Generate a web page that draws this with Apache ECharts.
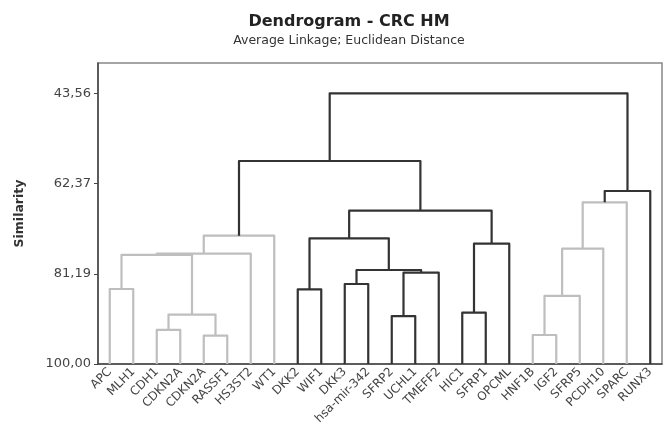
<!DOCTYPE html>
<html>
<head>
<meta charset="utf-8">
<script src="https://cdn.jsdelivr.net/npm/echarts@6/dist/echarts.min.js"></script>
<style>html,body{margin:0;padding:0;background:#fff}#c{width:670px;height:429px}</style>
</head>
<body>
<div id="c"></div>
<script>
// Leaves (observations) in dendrogram order
const leaves = ['APC','MLH1','CDH1','CDKN2A','CDKN2A','RASSF1','HS3ST2','WT1','DKK2','WIF1','DKK3','hsa-mir-342','SFRP2','UCHL1','TMEFF2','HIC1','SFRP1','OPCML','HNF1B','IGF2','SFRP5','PCDH10','SPARC','RUNX3'];
// Y-axis tick labels (similarity)
const yTicks = [43.56, 62.37, 81.19, 100.00];
// Merge steps: node ids 0..23 are leaves, each merge creates node 24+k
const mergeA   = [2, 4, 24, 0, 27, 28, 29, 8, 10, 12, 33, 32, 31, 15, 37, 36, 30, 18, 41, 42, 43, 44, 40];
const mergeB   = [3, 5, 25, 1, 26, 6, 7, 9, 11, 13, 14, 34, 35, 16, 17, 38, 39, 19, 20, 21, 22, 23, 45];
const mergeSim = [92.9, 94.1, 89.7, 84.36, 77.25, 77.0, 73.25, 84.42, 83.32, 90.0, 80.96, 80.4, 73.79, 89.3, 74.9, 68.03, 57.67, 93.95, 85.8, 75.96, 66.29, 63.93, 43.56];
// 0 = grey cluster link, 1 = black link
const mergeTone = [0, 0, 0, 0, 0, 0, 0, 1, 1, 1, 1, 1, 1, 1, 1, 1, 1, 0, 0, 0, 0, 1, 1];

const tones = ['#bebebe', '#333333'];
const nodeX = leaves.map((_, i) => i);
const nodeY = leaves.map(() => 100);
const links = [];
for (let k = 0; k < mergeA.length; k++) {
  const a = mergeA[k], b = mergeB[k];
  links.push([nodeX[a], nodeX[b], nodeY[a], nodeY[b], mergeSim[k], mergeTone[k]]);
  nodeX.push((nodeX[a] + nodeX[b]) / 2);
  nodeY.push(mergeSim[k]);
}

const chart = echarts.init(document.getElementById('c'));
const font = 'DejaVu Sans';
chart.setOption({
  animation: false,
  backgroundColor: '#fff',
  title: {
    text: 'Dendrogram - CRC HM',
    subtext: 'Average Linkage; Euclidean Distance',
    left: 344, top: 9, textAlign: 'center', itemGap: 4,
    textStyle: {fontFamily: font, fontSize: 16, fontWeight: 'bold', color: '#222'},
    subtextStyle: {fontFamily: font, fontSize: 12.5, color: '#333'}
  },
  grid: {left: 98, right: 8, top: 63, bottom: 65, show: true, borderColor: '#888', borderWidth: 1.5},
  xAxis: [{
    type: 'category', data: leaves, boundaryGap: true,
    axisLine: {onZero: false, lineStyle: {color: '#444', width: 1.5}},
    axisTick: {alignWithLabel: true, length: 4, lineStyle: {color: '#444'}},
    axisLabel: {interval: 0, rotate: 45, margin: 6, fontFamily: font, fontSize: 12, color: '#444'}
  }, {
    type: 'value', min: -0.5, max: leaves.length - 0.5, show: false
  }],
  yAxis: {
    type: 'value', inverse: true, min: 37.24, max: 100,
    name: 'Similarity', nameLocation: 'middle', nameGap: 72,
    nameTextStyle: {fontFamily: font, fontSize: 12.5, fontWeight: 'bold', color: '#333'},
    splitLine: {show: false},
    axisLine: {show: true, onZero: false, lineStyle: {color: '#444', width: 1.5}},
    axisTick: {show: true, length: 4, customValues: yTicks, lineStyle: {color: '#444'}},
    axisLabel: {customValues: yTicks, margin: 7, fontFamily: font, fontSize: 13, color: '#444',
      formatter: v => v.toFixed(2).replace('.', ',')}
  },
  series: [{
    type: 'custom', xAxisIndex: 1, yAxisIndex: 0, data: links, clip: false,
    renderItem: (params, api) => {
      const xl = api.value(0), xr = api.value(1), yl = api.value(2), yr = api.value(3), ym = api.value(4);
      const tone = tones[api.value(5)];
      const p1 = api.coord([xl, yl]), p2 = api.coord([xl, ym]), p3 = api.coord([xr, ym]), p4 = api.coord([xr, yr]);
      return {type: 'polyline', shape: {points: [p1, p2, p3, p4]},
        style: {stroke: tone, lineWidth: 2.2, fill: null, lineJoin: 'round'}};
    }
  }]
});
</script>
</body>
</html>
